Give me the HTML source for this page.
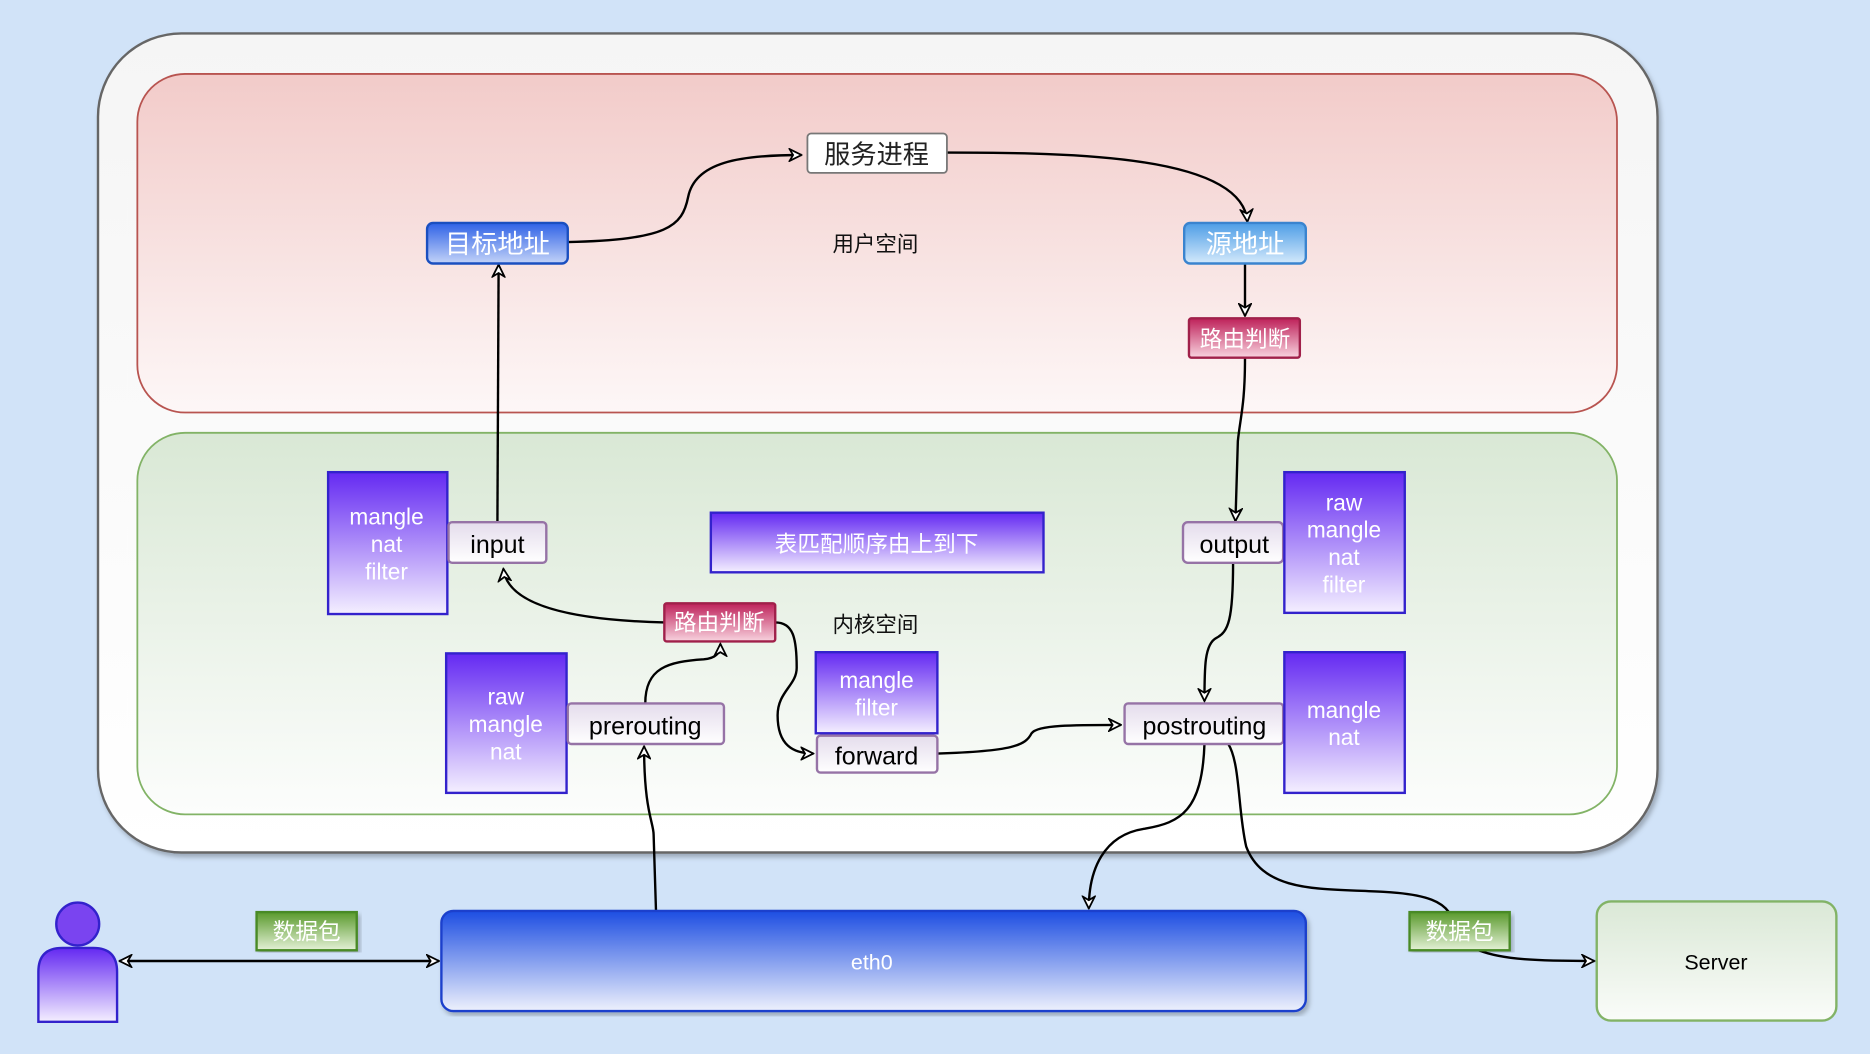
<!DOCTYPE html>
<html><head><meta charset="utf-8"><style>
html,body{margin:0;padding:0;background:#d1e3f8;}
svg{display:block;}
text{font-family:"Liberation Sans","Noto Sans CJK SC",sans-serif;}
</style></head><body>
<svg width="1870" height="1054" viewBox="0 0 1568 884" xmlns="http://www.w3.org/2000/svg">
<defs>
<linearGradient id="gOuter" x1="0" y1="0" x2="0" y2="1"><stop offset="0" stop-color="#f5f5f5"/><stop offset="1" stop-color="#ffffff"/></linearGradient>
<linearGradient id="gRed" x1="0" y1="0" x2="0" y2="1"><stop offset="0" stop-color="#f2cbc9"/><stop offset="1" stop-color="#fdf7f7"/></linearGradient>
<linearGradient id="gGreen" x1="0" y1="0" x2="0" y2="1"><stop offset="0" stop-color="#d9e8d5"/><stop offset="1" stop-color="#fcfdfc"/></linearGradient>
<linearGradient id="gPurple" x1="0" y1="0" x2="0" y2="1"><stop offset="0" stop-color="#6429f2"/><stop offset="1" stop-color="#f4efff"/></linearGradient>
<linearGradient id="gBlue" x1="0" y1="0" x2="0" y2="1"><stop offset="0" stop-color="#2f62e6"/><stop offset="1" stop-color="#c3d3f8"/></linearGradient>
<linearGradient id="gLBlue" x1="0" y1="0" x2="0" y2="1"><stop offset="0" stop-color="#4d9de6"/><stop offset="1" stop-color="#d4e9fb"/></linearGradient>
<linearGradient id="gPink" x1="0" y1="0" x2="0" y2="1"><stop offset="0" stop-color="#be215a"/><stop offset="1" stop-color="#f8d3df"/></linearGradient>
<linearGradient id="gGreenTag" x1="0" y1="0" x2="0" y2="1"><stop offset="0" stop-color="#5a9a2d"/><stop offset="1" stop-color="#e4f1d6"/></linearGradient>
<linearGradient id="gEth" x1="0" y1="0" x2="0" y2="1"><stop offset="0" stop-color="#1d4ee2"/><stop offset="1" stop-color="#eef1fc"/></linearGradient>
<linearGradient id="gLabel" x1="0" y1="0" x2="0" y2="1"><stop offset="0" stop-color="#e4dcec"/><stop offset="1" stop-color="#ffffff"/></linearGradient>
<linearGradient id="gServer" x1="0" y1="0" x2="0" y2="1"><stop offset="0" stop-color="#dae8d6"/><stop offset="1" stop-color="#fafcf9"/></linearGradient>
<marker id="ar" viewBox="0 0 12 12" refX="11" refY="6" markerWidth="12" markerHeight="12" markerUnits="userSpaceOnUse" orient="auto-start-reverse">
<path d="M1,1 L11,6 L1,11 L4,6 Z" fill="#fff" stroke="#000" stroke-width="1.5"/></marker>
<filter id="sh" x="-5%" y="-5%" width="110%" height="110%"><feDropShadow dx="2" dy="3" stdDeviation="2" flood-color="#000" flood-opacity="0.25"/></filter>
</defs>

<!-- outer container -->
<rect x="82" y="28" width="1308" height="687" rx="70" fill="url(#gOuter)" stroke="#666" stroke-width="2" filter="url(#sh)"/>
<rect x="115" y="62" width="1241" height="284" rx="40" fill="url(#gRed)" stroke="#b85450" stroke-width="1.5"/>
<rect x="115" y="363" width="1241" height="320" rx="40" fill="url(#gGreen)" stroke="#82b366" stroke-width="1.5"/>

<!-- connectors -->
<g fill="none" stroke="#000" stroke-width="2">
<path d="M476,203 C560,201 572,190 577,165 C583,136 620,130 672,130" marker-end="url(#ar)"/>
<path d="M794,128 C900,128 1042,130 1046,186" marker-end="url(#ar)"/>
<path d="M1044,221 L1044,265" marker-end="url(#ar)"/>
<path d="M1044,300 C1044,340 1040,350 1038,370 L1036,437" marker-end="url(#ar)"/>
<path d="M417,437 L418,222" marker-end="url(#ar)"/>
<path d="M557,522 C470,520 425,505 422,477" marker-end="url(#ar)"/>
<path d="M541,590 C541,560 560,555 590,553 C600,552 604,548 604,540" marker-end="url(#ar)"/>
<path d="M650,522 C665,522 668,535 668,560 C668,575 652,580 652,600 C652,625 665,632 682,632" marker-end="url(#ar)"/>
<path d="M786,632 C850,630 860,625 865,615 C870,608 900,608 940,608" marker-end="url(#ar)"/>
<path d="M1034,472 C1034,520 1030,530 1020,535 C1010,540 1010,560 1010,588" marker-end="url(#ar)"/>
<path d="M550,764 L548,700 C548,690 540,680 540,626" marker-end="url(#ar)"/>
<path d="M1010,624 C1008,680 990,690 960,695 C925,700 913,730 913,762" marker-end="url(#ar)"/>
<path d="M1030,624 C1040,640 1038,680 1045,710 C1060,750 1110,745 1160,748 C1200,750 1210,758 1215,765"/>
<path d="M1240,797 C1260,805 1290,806 1337,806" marker-end="url(#ar)"/>
<path d="M100,806 L368,806" marker-start="url(#ar)" marker-end="url(#ar)"/>
</g>

<!-- top area nodes -->
<rect x="677" y="112" width="117" height="33" rx="3" fill="#fff" stroke="#777" stroke-width="1.5"/>
<text x="735" y="137" font-size="22" text-anchor="middle" fill="#222">服务进程</text>
<rect x="358" y="187" width="118" height="34" rx="5" fill="url(#gBlue)" stroke="#1a4fc0" stroke-width="2"/>
<text x="417" y="212" font-size="22" text-anchor="middle" fill="#fff">目标地址</text>
<rect x="993" y="187" width="102" height="34" rx="5" fill="url(#gLBlue)" stroke="#3a84cf" stroke-width="2"/>
<text x="1044" y="212" font-size="22" text-anchor="middle" fill="#fff">源地址</text>
<text x="734" y="211" font-size="18" text-anchor="middle" fill="#111">用户空间</text>
<rect x="997" y="267" width="93" height="33" rx="2" fill="url(#gPink)" stroke="#a0204a" stroke-width="2"/>
<text x="1044" y="291" font-size="19" text-anchor="middle" fill="#fff">路由判断</text>

<!-- kernel area -->
<rect x="275" y="396" width="100" height="119" fill="url(#gPurple)" stroke="#3322cc" stroke-width="2"/>
<g font-size="19" fill="#fff" text-anchor="middle"><text x="324" y="440">mangle</text><text x="324" y="463">nat</text><text x="324" y="486">filter</text></g>
<rect x="376" y="438" width="82" height="34" rx="3" fill="url(#gLabel)" stroke="#9673a6" stroke-width="2"/>
<text x="417" y="464" font-size="21" text-anchor="middle" fill="#000">input</text>

<rect x="596" y="430" width="279" height="50" fill="url(#gPurple)" stroke="#3322cc" stroke-width="2"/>
<text x="735" y="463" font-size="19" text-anchor="middle" fill="#fff">表匹配顺序由上到下</text>

<rect x="992" y="438" width="84" height="34" rx="4" fill="url(#gLabel)" stroke="#9673a6" stroke-width="2"/>
<text x="1035" y="464" font-size="21" text-anchor="middle" fill="#000">output</text>
<rect x="1077" y="396" width="101" height="118" fill="url(#gPurple)" stroke="#3322cc" stroke-width="2"/>
<g font-size="19" fill="#fff" text-anchor="middle"><text x="1127" y="428">raw</text><text x="1127" y="451">mangle</text><text x="1127" y="474">nat</text><text x="1127" y="497">filter</text></g>

<rect x="557" y="506" width="93" height="32" rx="2" fill="url(#gPink)" stroke="#a0204a" stroke-width="2"/>
<text x="603" y="529" font-size="19" text-anchor="middle" fill="#fff">路由判断</text>
<text x="734" y="530" font-size="18" text-anchor="middle" fill="#111">内核空间</text>

<rect x="374" y="548" width="101" height="117" fill="url(#gPurple)" stroke="#3322cc" stroke-width="2"/>
<g font-size="19" fill="#fff" text-anchor="middle"><text x="424" y="591">raw</text><text x="424" y="614">mangle</text><text x="424" y="637">nat</text></g>
<rect x="476" y="590" width="131" height="34" rx="3" fill="url(#gLabel)" stroke="#9673a6" stroke-width="2"/>
<text x="541" y="616" font-size="21" text-anchor="middle" fill="#000">prerouting</text>

<rect x="684" y="547" width="102" height="68" fill="url(#gPurple)" stroke="#3322cc" stroke-width="2"/>
<g font-size="19" fill="#fff" text-anchor="middle"><text x="735" y="577">mangle</text><text x="735" y="600">filter</text></g>
<rect x="685" y="617" width="101" height="31" rx="3" fill="url(#gLabel)" stroke="#9673a6" stroke-width="2"/>
<text x="735" y="641" font-size="21" text-anchor="middle" fill="#000">forward</text>

<rect x="943" y="590" width="133" height="34" rx="3" fill="url(#gLabel)" stroke="#9673a6" stroke-width="2"/>
<text x="1010" y="616" font-size="21" text-anchor="middle" fill="#000">postrouting</text>
<rect x="1077" y="547" width="101" height="118" fill="url(#gPurple)" stroke="#3322cc" stroke-width="2"/>
<g font-size="19" fill="#fff" text-anchor="middle"><text x="1127" y="602">mangle</text><text x="1127" y="625">nat</text></g>

<!-- bottom -->
<rect x="370" y="764" width="725" height="84" rx="10" fill="url(#gEth)" stroke="#1a3fcc" stroke-width="2" filter="url(#sh)"/>
<text x="731" y="813" font-size="18" text-anchor="middle" fill="#fff">eth0</text>

<circle cx="65" cy="775" r="18" fill="#7a44f0" stroke="#3322cc" stroke-width="2"/>
<path d="M32,857 L32,815 Q32,795 52,795 L78,795 Q98,795 98,815 L98,857 Z" fill="url(#gPurple)" stroke="#3322cc" stroke-width="2"/>

<rect x="215" y="765" width="84" height="32" fill="url(#gGreenTag)" stroke="#4a8a25" stroke-width="2" filter="url(#sh)"/>
<text x="257" y="788" font-size="19" text-anchor="middle" fill="#fff">数据包</text>
<rect x="1182" y="765" width="84" height="32" fill="url(#gGreenTag)" stroke="#4a8a25" stroke-width="2" filter="url(#sh)"/>
<text x="1224" y="788" font-size="19" text-anchor="middle" fill="#fff">数据包</text>

<rect x="1339" y="756" width="201" height="100" rx="12" fill="url(#gServer)" stroke="#82b366" stroke-width="2"/>
<text x="1439" y="813" font-size="18" text-anchor="middle" fill="#000">Server</text>
</svg>
</body></html>
